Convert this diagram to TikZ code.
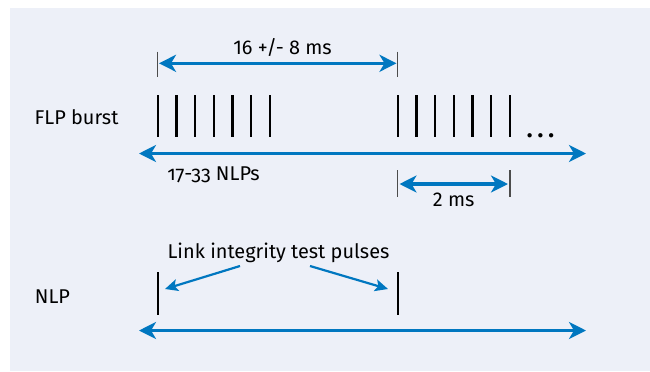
\documentclass[tikz,border=0pt]{standalone}
\usepackage{fontspec}
\setmainfont{Fira Sans}
\usetikzlibrary{arrows.meta}
\definecolor{bg}{RGB}{237,240,248}
\definecolor{lblue}{RGB}{0,119,192}
\begin{document}
\begin{tikzpicture}[x=1bp,y=-1bp,
 dim/.style={lblue, line width=3.2bp, {Stealth[length=17bp,width=17bp,inset=5bp]}-{Stealth[length=17bp,width=17bp,inset=5bp]}},
 ptr/.style={lblue, line width=2.2bp, -{Stealth[length=13bp,width=12bp,inset=3bp]}},
 pulse/.style={black, line width=2.4bp},
 tick/.style={black!70, line width=1.2bp},
 lbl/.style={font=\fontsize{20}{24}\selectfont, inner sep=0pt}]
\useasboundingbox (0,0) rectangle (650,371);
\fill[bg] (10,8) rectangle (650,371);
% FLP pulses
\foreach \i in {0,...,6}{
  \coordinate (at\i) at ({157.7+18.7*\i},95);
  \coordinate (ab\i) at ({157.7+18.7*\i},137);
  \draw[pulse] (at\i) -- (ab\i);
  \coordinate (bt\i) at ({397.7+18.7*\i},95);
  \coordinate (bb\i) at ({397.7+18.7*\i},137);
  \draw[pulse] (bt\i) -- (bb\i);
}
\node[lbl, font=\fontsize{24}{28}\selectfont\bfseries, anchor=base] (dots) at (540.5,137) {.\kern5bp.\kern5bp.};
% top dimension
\coordinate (t1a) at (157.7,51.7); \coordinate (t1b) at (157.7,76.7);
\coordinate (t2a) at (397.7,51.7); \coordinate (t2b) at (397.7,76.7);
\draw[tick] (t1a) -- (t1b);
\draw[tick] (t2a) -- (t2b);
\coordinate (d1l) at (159,63.3); \coordinate (d1r) at (396.5,63.3);
\draw[dim] (d1l) -- (d1r);
\node[lbl] (per) at (282.5,47.5) {16 +/- 8 ms};
% FLP axis
\coordinate (f1) at (139,153.5); \coordinate (f2) at (586,153.5);
\draw[dim] (f1) -- (f2);
\node[lbl] (nlps) at (213.5,174.5) {\addfontfeatures{Numbers=OldStyle}17-33 NLPs};
\node[lbl] (flp) at (76.5,117) {FLP burst};
% 2 ms dimension
\coordinate (t3a) at (397.7,170); \coordinate (t3b) at (397.7,197);
\coordinate (t4a) at (510,170); \coordinate (t4b) at (510,197);
\draw[tick] (t3a) -- (t3b);
\draw[tick] (t4a) -- (t4b);
\coordinate (d2l) at (399.5,184); \coordinate (d2r) at (508,184);
\draw[dim] (d2l) -- (d2r);
\node[lbl] (twoms) at (453.7,200) {2 ms};
% NLP
\node[lbl] (nlp) at (52.5,297) {NLP};
\coordinate (n1t) at (157.7,272); \coordinate (n1b) at (157.7,315);
\coordinate (n2t) at (397.7,272); \coordinate (n2b) at (397.7,315);
\draw[pulse] (n1t) -- (n1b);
\draw[pulse] (n2t) -- (n2b);
\node[lbl] (lit) at (278.5,253) {Link integrity test pulses};
\coordinate (p1s) at (240,266); \coordinate (p1e) at (165,289);
\coordinate (p2s) at (310,266); \coordinate (p2e) at (388,289);
\draw[ptr] (p1s) -- (p1e);
\draw[ptr] (p2s) -- (p2e);
\coordinate (g1) at (139,330.5); \coordinate (g2) at (586,330.5);
\draw[dim] (g1) -- (g2);
\end{tikzpicture}
\end{document}
